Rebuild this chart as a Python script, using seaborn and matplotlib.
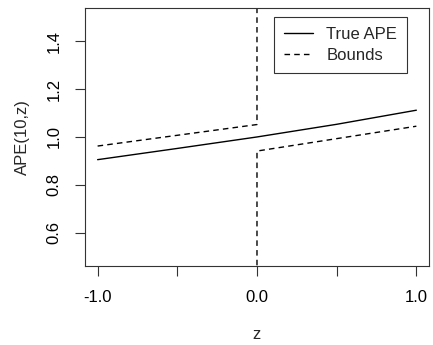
import matplotlib
matplotlib.use("Agg")
import matplotlib.pyplot as plt
import seaborn as sns
import pandas as pd

# values
z_true = [-1.0, -0.5, 0.0, 0.5, 1.0]
ape_true = [0.905, 0.952, 1.000, 1.053, 1.112]

z_left = [-1.0, 0.0, 0.0]
bound_left = [0.962, 1.052, 1.70]
z_right = [0.0, 0.0, 1.0]
bound_right = [0.30, 0.941, 1.045]

x_ticks = [-1.0, -0.5, 0.0, 0.5, 1.0]
x_labels = ["-1.0", "", "0.0", "", "1.0"]
y_ticks = [0.6, 0.8, 1.0, 1.2, 1.4]

sns.set_theme(style="white")
plt.rcParams["font.family"] = ["Liberation Sans", "DejaVu Sans"]

fig = plt.figure(figsize=(4.33, 3.45), dpi=100)
ax = fig.add_axes([0.196, 0.229, 0.795, 0.748])

true_df = pd.DataFrame({"z": z_true, "ape": ape_true})
left_df = pd.DataFrame({"z": z_left, "ape": bound_left})
right_df = pd.DataFrame({"z": z_right, "ape": bound_right})

common = dict(x="z", y="ape", ax=ax, color="black", lw=1, sort=False,
              estimator=None, errorbar=None)
sns.lineplot(data=true_df, label="True APE", **common)
sns.lineplot(data=left_df, label="Bounds", **common)
sns.lineplot(data=right_df, **common)
for ln in ax.lines[1:]:
    ln.set_dashes((4, 3))

ax.set_xlim(-1.08, 1.08)
ax.set_ylim(0.46, 1.54)
ax.set_xticks(x_ticks)
ax.set_xticklabels(x_labels)
ax.set_yticks(y_ticks)
ax.set_yticklabels([f"{v:.1f}" for v in y_ticks], rotation=90, va="center")
ax.tick_params(direction="out", length=7, width=0.8, colors="#333333",
               labelcolor="black", labelsize=12, pad=10)
ax.tick_params(axis="both", bottom=True, left=True)
for sp in ax.spines.values():
    sp.set_color("#333333")
    sp.set_linewidth(0.8)

ax.set_xlabel("z", fontsize=12, labelpad=16)
ax.set_ylabel("APE(10,z)", fontsize=12, labelpad=12)

leg = ax.legend(loc="upper right", bbox_to_anchor=(0.936, 0.965), fontsize=12,
                frameon=True, fancybox=False, handlelength=1.75,
                borderpad=0.6, labelspacing=0.35, handletextpad=0.8,
                borderaxespad=0)
leg.get_frame().set_edgecolor("black")
leg.get_frame().set_linewidth(0.8)
for h in leg.get_lines()[1:]:
    h.set_dashes((4, 3))

fig.savefig("out.png", dpi=100)
